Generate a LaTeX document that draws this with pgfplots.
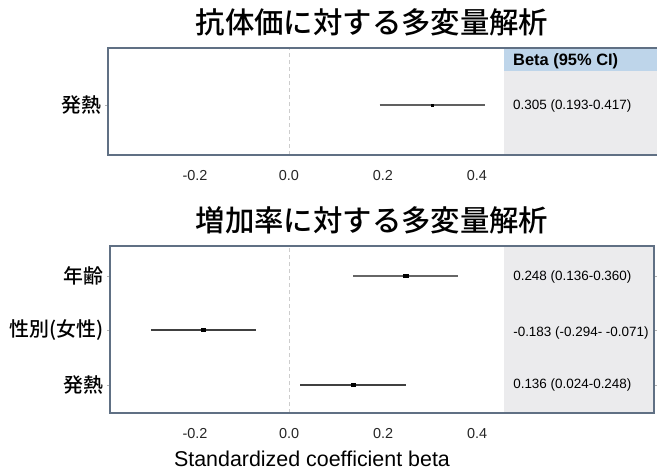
\documentclass[border=0pt]{standalone}
\usepackage{fontspec}
\setmainfont{Liberation Sans}
\newfontfamily\jp{Noto Sans CJK JP Medium}
\usepackage{pgfplots}
\pgfplotsset{compat=1.18}
\definecolor{boxc}{RGB}{96,112,132}
\definecolor{hdr}{RGB}{190,213,234}
\definecolor{pnl}{RGB}{235,235,237}
\definecolor{zer}{RGB}{205,205,205}
\pgfplotsset{
 fp/.style={
  scale only axis, axis on top,
  axis line style={boxc, line width=1.3bp},
  xtick={-0.2,0,0.2,0.4},
  /pgf/number format/fixed,
  /pgf/number format/fixed zerofill,
  /pgf/number format/precision=1,
  /pgf/number format/assume math mode=true,
  xticklabel style={font=\fontsize{14.5}{16}\selectfont, text=black!85, yshift=-9bp},
  x tick style={draw=none},
  major tick length=3bp,
  y tick style={gray!60, line width=0.6bp},
  tick align=outside,
  yticklabel style={font=\jp\fontsize{20}{22}\selectfont},
  ymin=0,
 }
}
\begin{document}
\begin{tikzpicture}
\path[use as bounding box] (0,0) rectangle (657bp,-472bp);
% top panel
\begin{axis}[fp, at={(108bp,-155bp)}, anchor=south west,
  width=551bp, height=107bp, xmin=-0.385, xmax=0.7873, ymax=107,
  ytick={50}, yticklabels={発熱}]
\fill[pnl] (axis cs:0.457,0) rectangle (axis cs:0.7873,84);
\fill[hdr] (axis cs:0.457,84) rectangle (axis cs:0.7873,107);
\draw[zer, dash pattern=on 4bp off 3bp, line width=0.9bp] (axis cs:0,0) -- (axis cs:0,107);
\addplot[gray!75!black, line width=1.3bp] coordinates {(0.193,50) (0.417,50)};
\addplot[only marks, mark=square*, mark size=1bp, black] coordinates {(0.305,50)};
\node[anchor=west, inner sep=0, font=\bfseries\fontsize{16.5}{18}\selectfont] at (axis cs:0.4766,94) {Beta (95\% CI)};
\node[anchor=west, inner sep=0, font=\fontsize{13.5}{15}\selectfont] at (axis cs:0.4766,49) {0.305 (0.193-0.417)};
\end{axis}
% bottom panel
\begin{axis}[fp, at={(110bp,-413bp)}, anchor=south west,
  width=544bp, height=167bp, xmin=-0.381, xmax=0.7764, ymax=167,
  ytick={28,83,137}, yticklabels={発熱,性別(女性),年齢}]
\fill[pnl] (axis cs:0.457,0) rectangle (axis cs:0.7764,167);
\draw[zer, dash pattern=on 4bp off 3bp, line width=0.9bp] (axis cs:0,0) -- (axis cs:0,167);
\addplot[gray!80!black, line width=1.3bp] coordinates {(0.136,137) (0.360,137)};
\addplot[black!75, line width=1.3bp] coordinates {(-0.294,83) (-0.071,83)};
\addplot[black!75, line width=1.3bp] coordinates {(0.024,28) (0.248,28)};
\addplot[only marks, mark=square*, mark size=1.6bp, mark options={xscale=1.4}, black] coordinates {(0.248,137) (-0.183,83) (0.136,28)};
\node[anchor=west, inner sep=0, font=\fontsize{13.5}{15}\selectfont] at (axis cs:0.4766,136) {0.248 (0.136-0.360)};
\node[anchor=west, inner sep=0, font=\fontsize{13.5}{15}\selectfont] at (axis cs:0.4766,80) {-0.183 (-0.294- -0.071)};
\node[anchor=west, inner sep=0, font=\fontsize{13.5}{15}\selectfont] at (axis cs:0.4766,28) {0.136 (0.024-0.248)};
\end{axis}
\node[font=\jp\fontsize{29.5}{32}\selectfont] at (372bp,-22bp) {抗体価に対する多変量解析};
\node[font=\jp\fontsize{29.5}{32}\selectfont] at (372bp,-220bp) {増加率に対する多変量解析};
\node[font=\fontsize{21.5}{24}\selectfont] at (312bp,-459bp) {Standardized coefficient beta};
\end{tikzpicture}
\end{document}
